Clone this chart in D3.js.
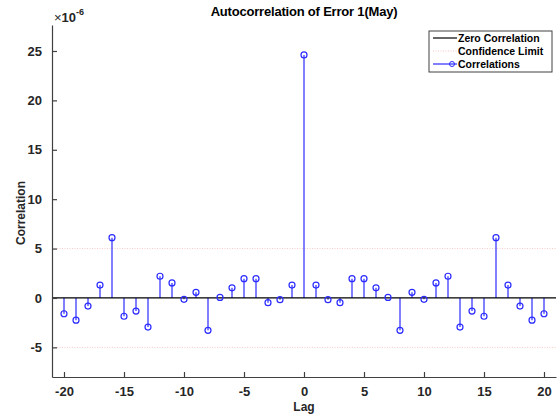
<!DOCTYPE html>
<html>
<head>
<meta charset="utf-8">
<script src="https://cdn.jsdelivr.net/npm/d3@7"></script>
<style>
  body { margin: 0; background: #fff; }
  text { font-family: "Liberation Sans", Arial, sans-serif; }
</style>
</head>
<body>
<div id="chart"></div>
<script>
// lags and autocorrelation values (x 1e-6)
const lags = d3.range(-20, 21)
const corr = [-1.6, -2.25, -0.82, 1.3, 6.1, -1.85, -1.33, -2.95, 2.2, 1.52,
  -0.14, 0.57, -3.28, 0.05, 1.03, 1.95, 1.95, -0.48, -0.17, 1.3,
  24.6,
  1.3, -0.17, -0.48, 1.95, 1.95, 1.03, 0.05, -3.28, 0.57, -0.14,
  1.52, 2.2, -2.95, -1.33, -1.85, 6.1, 1.3, -0.82, -2.25, -1.6]
const confLimit = 5
const xTicks = [-20, -15, -10, -5, 0, 5, 10, 15, 20]
const yTicks = [-5, 0, 5, 10, 15, 20, 25]
const legendLabels = ["Zero Correlation", "Confidence Limit", "Correlations"]

const W = 557, H = 416
const MARGIN = { LEFT: 52, RIGHT: 1, TOP: 25, BOTTOM: 39 }

const svg = d3.select("#chart").append("svg")
  .attr("width", W)
  .attr("height", H)

const x = d3.scaleLinear().domain([-21, 21]).range([MARGIN.LEFT, W - MARGIN.RIGHT])
const y = d3.scaleLinear().domain([-8, 27.63]).range([H - MARGIN.BOTTOM, MARGIN.TOP])

const blue = "#2b2bff"
const pink = "#f8c8c8"

// confidence limits
svg.selectAll(".conf")
  .data([confLimit, -confLimit])
  .enter().append("line")
  .attr("x1", x(-21)).attr("x2", x(21))
  .attr("y1", d => y(d)).attr("y2", d => y(d))
  .attr("stroke", pink)
  .attr("stroke-width", 1)
  .attr("stroke-dasharray", "1,1.5")

// stems
svg.selectAll(".stem")
  .data(lags)
  .enter().append("line")
  .attr("x1", d => x(d)).attr("x2", d => x(d))
  .attr("y1", y(0))
  .attr("y2", (d, i) => y(corr[i]))
  .attr("stroke", blue)
  .attr("stroke-width", 1.2)

// zero line
svg.append("line")
  .attr("x1", x(-21)).attr("x2", x(21))
  .attr("y1", y(0)).attr("y2", y(0))
  .attr("stroke", "#000")
  .attr("stroke-width", 1.2)

// markers
svg.selectAll(".mark")
  .data(lags)
  .enter().append("circle")
  .attr("cx", d => x(d))
  .attr("cy", (d, i) => y(corr[i]))
  .attr("r", 3)
  .attr("fill", "none")
  .attr("stroke", blue)
  .attr("stroke-width", 1.2)

// axes
const fmt = d => String(d)
svg.append("g")
  .attr("transform", `translate(0, ${H - MARGIN.BOTTOM})`)
  .call(d3.axisBottom(x).tickValues(xTicks).tickFormat(fmt).tickSizeInner(-5).tickSizeOuter(0).tickPadding(10))
svg.append("g")
  .attr("transform", `translate(${MARGIN.LEFT}, 0)`)
  .call(d3.axisLeft(y).tickValues(yTicks).tickFormat(fmt).tickSizeInner(-5).tickSizeOuter(0).tickPadding(10))

svg.selectAll(".domain, .tick line").attr("stroke", "#404040").attr("stroke-width", 1.2)
svg.selectAll(".tick text")
  .attr("fill", "#262626")
  .attr("font-size", "13px")
  .attr("font-weight", "bold")
  .attr("font-family", "Liberation Sans, Arial, sans-serif")

// exponent label
const ex = svg.append("text")
  .attr("x", 54).attr("y", 22)
  .attr("font-size", "13px")
  .attr("fill", "#262626")
ex.append("tspan").text("\u00d7")
ex.append("tspan").attr("font-weight", "bold").text("10")
ex.append("tspan").attr("dy", -7).attr("font-size", "9px").attr("font-weight", "bold").text("-6")

// title
svg.append("text")
  .attr("x", 304).attr("y", 16)
  .attr("text-anchor", "middle")
  .attr("font-size", "13px")
  .attr("font-weight", "bold")
  .attr("letter-spacing", "-0.2px")
  .text("Autocorrelation of Error 1(May)")

// axis labels
svg.append("text")
  .attr("x", 304).attr("y", 411)
  .attr("text-anchor", "middle")
  .attr("font-size", "12px")
  .attr("font-weight", "bold")
  .attr("fill", "#262626")
  .text("Lag")
svg.append("text")
  .attr("transform", "rotate(-90)")
  .attr("x", -213).attr("y", 25)
  .attr("text-anchor", "middle")
  .attr("font-size", "12px")
  .attr("font-weight", "bold")
  .attr("fill", "#262626")
  .text("Correlation")

// legend
const legend = svg.append("g").attr("transform", "translate(429, 31)")
legend.append("rect")
  .attr("width", 123).attr("height", 41)
  .attr("fill", "#fff")
  .attr("stroke", "#404040")
  .attr("stroke-width", 1)
const rows = legend.selectAll(".row")
  .data(legendLabels)
  .enter().append("g")
  .attr("transform", (d, i) => `translate(0, ${7 + i * 13})`)
rows.append("text")
  .attr("x", 29).attr("y", 4)
  .attr("font-size", "10.5px")
  .attr("font-weight", "bold")
  .text(d => d)
rows.append("line")
  .attr("x1", 4).attr("x2", 28)
  .attr("stroke", (d, i) => i === 0 ? "#000" : i === 1 ? pink : blue)
  .attr("stroke-width", 1.2)
  .attr("stroke-dasharray", (d, i) => i === 1 ? "1,1.5" : null)
rows.filter((d, i) => i === 2).append("circle")
  .attr("cx", 23).attr("r", 2.5)
  .attr("fill", "none")
  .attr("stroke", blue)
</script>
</body>
</html>
